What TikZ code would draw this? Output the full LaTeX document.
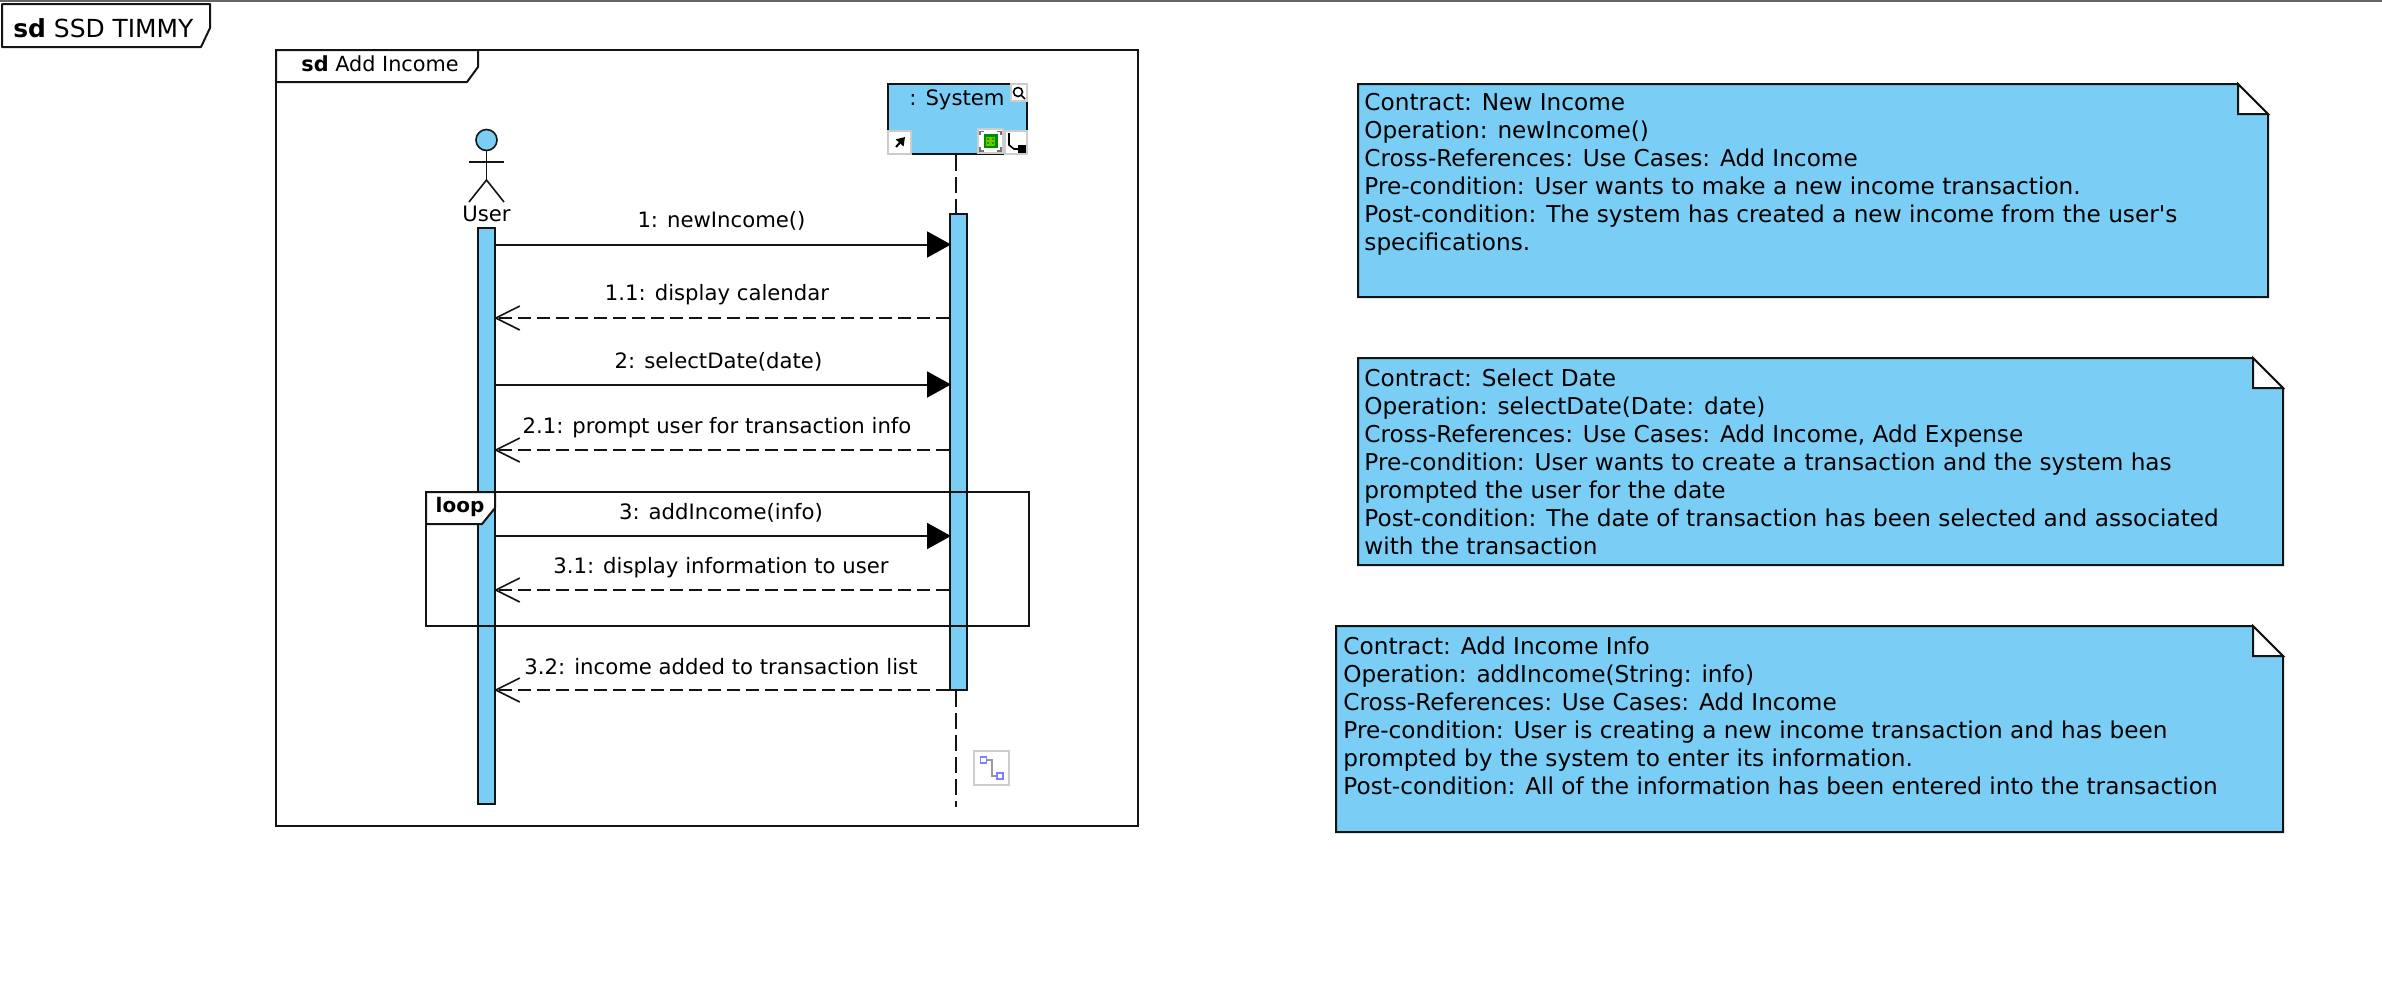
\documentclass[tikz,border=0pt]{standalone}
\usepackage{fontspec}
\setmainfont{DejaVu Sans}
\usepackage{xcolor}
\definecolor{ColFill}{RGB}{122,206,245}
\definecolor{ColLine}{RGB}{20,20,20}
\usetikzlibrary{arrows.meta}
\tikzstyle{Frame}=[draw=ColLine,line width=1pt,fill=white]
\tikzstyle{Tab}=[draw=ColLine,line width=1pt,fill=white,line join=round]
\tikzstyle{Bar}=[rectangle,draw=ColLine,fill=ColFill,line width=1pt,inner sep=0pt,minimum width=8.5pt]
\tikzstyle{Box}=[rectangle,draw=ColLine,fill=ColFill,line width=1pt,inner sep=0pt,minimum width=69.5pt,minimum height=35pt]
\tikzstyle{Txt}=[inner sep=0pt,font=\fontsize{10.6}{14}\selectfont]
\tikzstyle{NoteTxt}=[inner sep=0pt,font=\fontsize{11.6}{14}\selectfont,anchor=north west,align=left]
\tikzstyle{Title}=[inner sep=0pt,anchor=west]
\tikzstyle{Note}=[draw=ColLine,line width=1pt,fill=ColFill,line join=miter]
\tikzstyle{Fold}=[draw=ColLine,line width=1pt,fill=white,line join=miter]
\tikzstyle{Call}=[draw=ColLine,line width=1pt,shorten >=-1pt,-{Triangle[length=12pt,width=13pt,color=black]}]
\tikzstyle{Reply}=[draw=ColLine,line width=.9pt,shorten >=-1pt,dash pattern=on 6.5pt off 3pt,-{Straight Barb[length=12pt,width=12pt,line width=.8pt]}]
\tikzstyle{Life}=[draw=ColLine,line width=1pt,dash pattern=on 8pt off 3pt]
\tikzstyle{Stick}=[draw=ColLine,line width=.8pt]
\tikzstyle{Icon}=[draw=black!20,line width=.8pt,fill=white]
\begin{document}
\begin{tikzpicture}[x=.5pt,y=-.5pt]
    \useasboundingbox(0,0)rectangle(2382,996);
    \fill[black!60](0,0)rectangle(2382,2);
    \draw[Tab](2,4)--(210,4)--(210,28)--(201,47)--(2,47)--cycle;
    \node[Title,font=\fontsize{12.45}{16}\selectfont](maintitle)at(13,28){\textbf{sd} SSD TIMMY};
    \draw[Frame](276,50)rectangle(1138,826);
    \draw[Tab](276,50)--(478,50)--(478,67)--(467,82)--(276,82)--cycle;
    \node[Title,Txt,font=\fontsize{10.4}{14}\selectfont](frametitle)at(301,64){\textbf{sd} Add Income};
    \draw[Stick,fill=ColFill](486.5,140)circle(10.5);
    \draw[Stick](486.5,150.5)--(486.5,180);
    \draw[Stick](469,162)--(504,162);
    \draw[Stick](469,202)--(486.5,180)--(504,202);
    \node[Txt](user)at(486.5,214){User};
    \node[Box](sysbox)at(957.5,119){};
    \node[Txt](syslabel)at(957,100){: System};
    \node[Bar,minimum height=288pt](userbar)at(486.5,516){};
    \node[Bar,minimum height=238pt](sysbar)at(958.5,452){};
    \coordinate(lifex)at(956,0);
    \coordinate(sysend)at(956,807);
    \draw[Life](lifex|-sysbox.south)--(lifex|-sysbar.north);
    \draw[Life](lifex|-sysbar.south)--(sysend);
    \draw[Icon](1011,84)rectangle(1027,101);
    \draw[black,line width=.8pt](1018,92)circle(4.5);
    \draw[black,line width=.8pt](1021,95)--(1025,99);
    \draw[Icon](888,131)rectangle(911,154);
    \draw[black,line width=1pt,-{Triangle[length=4pt,width=5pt]}](896,147)--(905,137);
    \draw[Icon](978,129)rectangle(1003,153);
    \fill[green!55!black](983.5,134)rectangle(997.5,148);
    \fill[green!50!yellow!80!black](986,136.5)rectangle(995,145.5);
    \foreach \cx/\cy in {988/139,993/139,988/143,993/143}
        \fill[green!30!black](\cx,\cy)circle(.9);
    \draw[black!55,line width=.8pt](980,135)--(980,131.5)--(984,131.5);
    \draw[black!55,line width=.8pt](997,131.5)--(1001,131.5)--(1001,135);
    \draw[black!55,line width=.8pt](980,147)--(980,151)--(984,151);
    \draw[black!55,line width=.8pt](997,151)--(1001,151)--(1001,147);
    \draw[Icon](1005,131)rectangle(1027,154);
    \draw[black,line width=.8pt](1009,133)--(1009,145)--(1014,149)--(1020,149);
    \fill[black](1018,145)rectangle(1026,153);
    \draw[Icon](974,751)rectangle(1009,785);
    \draw[black!40,line width=.9pt](986,760)--(992,760)--(992,776)--(998,776);
    \draw[blue!50,line width=.8pt,fill=white](980.5,757)rectangle(986.5,763);
    \draw[blue!50,line width=.8pt,fill=white](997,773)rectangle(1003,779);
    \draw[Frame,fill=none](426,492)rectangle(1029,626);
    \draw[Tab](426,492)--(495,492)--(495,508)--(482,524)--(426,524)--cycle;
    \node[Txt,font=\fontsize{10}{14}\selectfont\bfseries](looplabel)at(460,507){loop};
    \coordinate(m1)at(0,244.5);
    \coordinate(m11)at(0,318);
    \coordinate(m2)at(0,384.5);
    \coordinate(m21)at(0,450);
    \coordinate(m3)at(0,536);
    \coordinate(m31)at(0,590);
    \coordinate(m32)at(0,690);
    \draw[Call](userbar.east|-m1)--(sysbar.west|-m1);
    \draw[Reply](sysbar.west|-m11)--(userbar.east|-m11);
    \draw[Call](userbar.east|-m2)--(sysbar.west|-m2);
    \draw[Reply](sysbar.west|-m21)--(userbar.east|-m21);
    \draw[Call](userbar.east|-m3)--(sysbar.west|-m3);
    \draw[Reply](sysbar.west|-m31)--(userbar.east|-m31);
    \draw[Reply](sysbar.west|-m32)--(userbar.east|-m32);
    \node[Txt](l1)at(721.5,221){1: newIncome()};
    \node[Txt](l11)at(717,295){1.1: display calendar};
    \node[Txt](l2)at(718.5,361.5){2: selectDate(date)};
    \node[Txt](l21)at(717,427.5){2.1: prompt user for transaction info};
    \node[Txt](l3)at(721,513){3: addIncome(info)};
    \node[Txt](l31)at(721,567.5){3.1: display information to user};
    \node[Txt](l32)at(721,667){3.2: income added to transaction list};
    \draw[Note](1358,84)--(2238,84)--(2268,114)--(2268,297)--(1358,297)--cycle;
    \draw[Fold](2238,84)--(2268,114)--(2238,114)--cycle;
    \node[NoteTxt](n1)at(1364,93){Contract: New Income\\
        Operation: newIncome()\\
        Cross-References: Use Cases: Add Income\\
        Pre-condition: User wants to make a new income transaction.\\
        Post-condition: The system has created a new income from the user\textquotesingle s\\
        specifications.};
    \draw[Note](1358,358)--(2253,358)--(2283,388)--(2283,565)--(1358,565)--cycle;
    \draw[Fold](2253,358)--(2283,388)--(2253,388)--cycle;
    \node[NoteTxt](n2)at(1364,368){Contract: Select Date\\
        Operation: selectDate(Date: date)\\
        Cross-References: Use Cases: Add Income, Add Expense\\
        Pre-condition: User wants to create a transaction and the system has\\
        prompted the user for the date\\
        Post-condition: The date of transaction has been selected and associated\\
        with the transaction};
    \draw[Note](1336,626)--(2253,626)--(2283,656)--(2283,832)--(1336,832)--cycle;
    \draw[Fold](2253,626)--(2283,656)--(2253,656)--cycle;
    \node[NoteTxt](n3)at(1343,636){Contract: Add Income Info\\
        Operation: addIncome(String: info)\\
        Cross-References: Use Cases: Add Income\\
        Pre-condition: User is creating a new income transaction and has been\\
        prompted by the system to enter its information.\\
        Post-condition: All of the information has been entered into the transaction};
\end{tikzpicture}
\end{document}
